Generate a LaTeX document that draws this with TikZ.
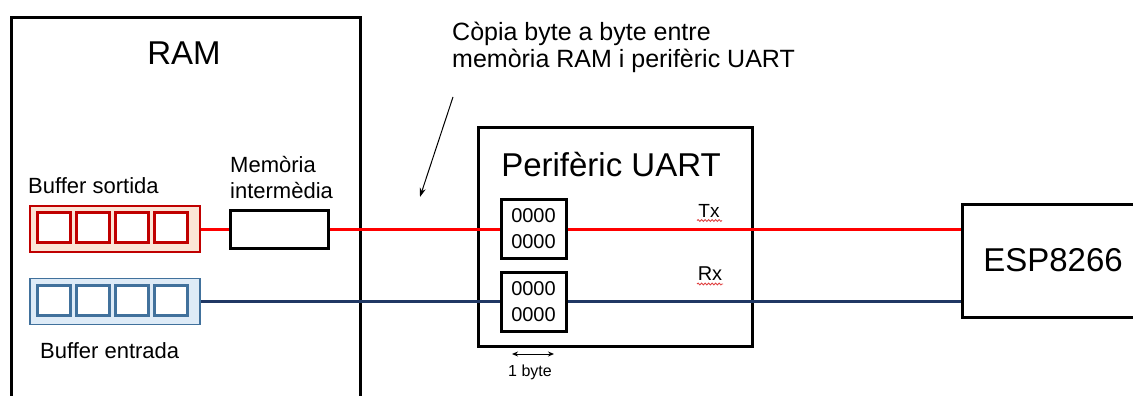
\documentclass[tikz,border=0pt]{standalone}
\usepackage{fontspec}
\setmainfont{Liberation Sans}
\usetikzlibrary{arrows.meta,decorations.pathmorphing}
\definecolor{outred}{HTML}{C00000}
\definecolor{outfill}{HTML}{FBE5D6}
\definecolor{inblue}{HTML}{41719C}
\definecolor{infill}{HTML}{DEEBF7}
\definecolor{txline}{HTML}{FF0000}
\definecolor{rxline}{HTML}{203864}
\definecolor{spell}{HTML}{E04040}

\begin{document}
\begin{tikzpicture}
    [x=1pt,y=-1pt,
     block/.style={draw,line width=3pt,fill=white,inner sep=0pt},
     reg/.style={block,minimum width=65pt,minimum height=59pt,align=center,
       font=\fontsize{20}{26}\selectfont},
     cell/.style={draw,fill=white,line width=2.4pt,minimum width=33pt,minimum height=30pt,inner sep=0pt},
     buf/.style={draw,line width=1.5pt,minimum width=170pt,minimum height=46pt,inner sep=0pt},
     big/.style={font=\fontsize{33}{36}\selectfont,inner sep=0pt},
     small/.style={font=\fontsize{22}{26}\selectfont,inner sep=0pt},
     wire/.style={line width=3pt},
     squiggle/.style={spell,line width=0.8pt,decorate,
       decoration={snake,amplitude=1pt,segment length=3.5pt}}]
    \useasboundingbox (0,0) rectangle (1133,396);
    %boxes
    \node[block,anchor=north west,minimum width=349pt,minimum height=420pt] (ram) at (10,16) {};
    \node[big,anchor=base] (ramtitle) at (184,65) {RAM};
    \node[block,minimum width=274pt,minimum height=219pt] (uart) at (615,236.5) {};
    \node[big,anchor=base] (uarttitle) at (611,176) {Perifèric UART};
    \node[block,minimum width=182pt,minimum height=113pt,big] (esp) at (1053,260.5) {ESP8266};
    %buffers
    \node[buf,draw=outred,fill=outfill] (bufout) at (115,229) {};
    \node[buf,draw=inblue,fill=infill] (bufin) at (115,301.5) {};
    \foreach \i in {0,...,3}{
      \node[cell,draw=outred] (outcell\i) at (54+39*\i,227.5) {};
      \node[cell,draw=inblue] (incell\i) at (54+39*\i,300.5) {};
    }
    \node[small,anchor=base west] (outlabel) at (28,193) {Buffer sortida};
    \node[small,anchor=base west] (inlabel) at (40,358) {Buffer entrada};
    %intermediate memory
    \node[block,minimum width=98pt,minimum height=38pt] (mem) at (279,229) {};
    \node[small,align=left,anchor=north west] (memlabel) at (230,156) {Memòria\\intermèdia};
    %uart registers
    \node[reg] (txreg) at (533.5,228.5) {0000\\0000};
    \node[reg] (rxreg) at (533.5,301.5) {0000\\0000};
    \node[font=\fontsize{19}{22}\selectfont,anchor=base,inner sep=0pt] (tx) at (709,217) {Tx};
    \node[font=\fontsize{20}{22}\selectfont,anchor=base,inner sep=0pt] (rx) at (710,280) {Rx};
    \draw[squiggle] (697,220.5) -- (722,220.5);
    \draw[squiggle] (697,284) -- (723,284);
    %wires
    \draw[wire,txline] (bufout.east) -- (mem.west);
    \draw[wire,txline] (mem.east) -- (mem.east -| txreg.west);
    \draw[wire,txline] (txreg.east |- mem.east) -- (mem.east -| esp.west);
    \draw[wire,rxline] (bufin.east) -- (rxreg.west);
    \draw[wire,rxline] (rxreg.east) -- (rxreg.east -| esp.west);
    %byte width
    \coordinate (byteleft) at (512,354);
    \coordinate (byteright) at (554,354);
    \draw[line width=1pt,{Stealth[length=6pt,width=5pt]}-{Stealth[length=6pt,width=5pt]}] (byteleft) -- (byteright);
    \node[font=\fontsize{16}{18}\selectfont,anchor=base,inner sep=0pt] (bytelabel) at (530,376) {1 byte};
    %note
    \node[font=\fontsize{25}{27}\selectfont,align=left,anchor=north west,inner sep=0pt] (note) at (452,22)
      {Còpia byte a byte entre\\memòria RAM i perifèric UART};
    \coordinate (notetail) at (453,97);
    \coordinate (notehead) at (420,197);
    \draw[line width=1pt,-{Stealth[length=9pt,width=6pt]}] (notetail) -- (notehead);
\end{tikzpicture}
\end{document}
